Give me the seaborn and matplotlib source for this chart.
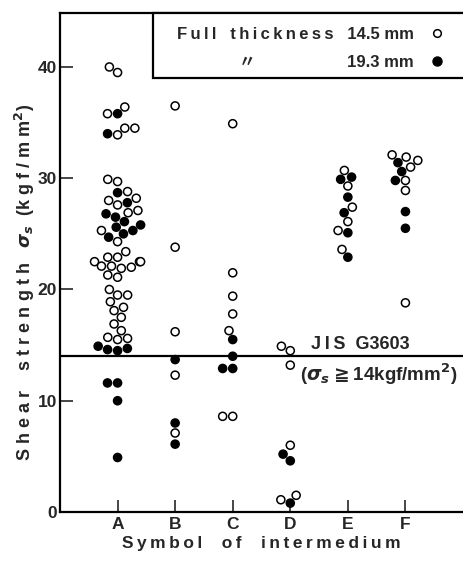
import pandas as pd
import matplotlib
matplotlib.use("Agg")
import matplotlib.pyplot as plt
from matplotlib.lines import Line2D
from matplotlib.patches import Rectangle
import seaborn as sns

# shear strength (kgf/mm2), per intermedium symbol
symbols = ["A", "B", "C", "D", "E", "F"]

a_145 = [40.0, 39.5, 36.4, 35.8, 34.5, 34.5, 33.9, 29.9, 29.7, 28.8, 28.2, 28.0,
         27.6, 27.1, 26.9, 25.3, 24.3, 23.4, 22.9, 22.9, 22.5, 22.5, 22.5, 22.1,
         22.1, 22.0, 21.9, 21.3, 21.1, 20.0, 19.5, 19.5, 18.9, 18.4, 18.1, 17.5,
         16.9, 16.3, 15.7, 15.6, 15.5]
a_193 = [35.8, 34.0, 28.7, 27.8, 26.8, 26.5, 26.1, 25.8, 25.6, 25.3, 25.0, 24.7,
         14.9, 14.7, 14.6, 14.5, 11.6, 11.6, 10.0, 4.9]
b_145 = [36.5, 23.8, 16.2, 12.3, 7.1]
b_193 = [13.7, 8.0, 6.1]
c_145 = [34.9, 21.5, 19.4, 17.8, 16.3, 8.6, 8.6]
c_193 = [15.5, 14.0, 12.9, 12.9]
d_145 = [14.9, 14.5, 13.2, 6.0, 1.5, 1.1]
d_193 = [5.2, 4.6, 0.8]
e_145 = [30.7, 29.3, 27.4, 26.1, 25.3, 23.6]
e_193 = [30.1, 29.9, 28.3, 26.9, 25.1, 22.9]
f_145 = [32.1, 31.9, 31.6, 31.0, 29.8, 28.9, 18.8]
f_193 = [31.4, 30.6, 29.8, 27.0, 25.5]

jis_limit = 14

groups = {
    "A": (a_145, a_193), "B": (b_145, b_193), "C": (c_145, c_193),
    "D": (d_145, d_193), "E": (e_145, e_193), "F": (f_145, f_193),
}
rows = []
for sym, (thin, thick) in groups.items():
    rows += [(sym, "14.5", v) for v in thin]
    rows += [(sym, "19.3", v) for v in thick]
df = pd.DataFrame(rows, columns=["symbol", "thickness", "strength"])


def spaced(text, gap="   ", track="\u2009"):
    # wide letter spacing like the original typesetting
    return gap.join(track.join(w) for w in text.split(" "))


sns.set_style("ticks")
plt.rcParams["font.family"] = ["Liberation Sans", "DejaVu Sans", "Noto Sans CJK JP"]
plt.rcParams["font.weight"] = "bold"

fig = plt.figure(figsize=(4.63, 5.65), dpi=100)
ax = fig.add_axes([60 / 463, 53 / 565, 403 / 463, 499 / 565])

sns.swarmplot(data=df, x="symbol", y="strength", hue="thickness", order=symbols,
              hue_order=["19.3", "14.5"], palette={"14.5": "white", "19.3": "black"},
              size=5.8, edgecolor="black", linewidth=1.1, legend=False, ax=ax)
for coll in ax.collections:
    coll.set_clip_on(False)

ax.axhline(jis_limit, color="black", lw=1.6, zorder=0)
ax.text(4.22, jis_limit + 0.25, spaced("JIS") + "  G3603", ha="center", va="bottom",
        fontsize=13, fontweight="bold")
ax.text(4.53, jis_limit - 0.45, "($\\sigma_s\\geqq$14kgf/mm$^2$)", ha="center", va="top",
        fontsize=13.5, fontweight="bold")

ax.set_xlim(-1.0, 6.0)
ax.set_ylim(0, 44.85)
ax.set_yticks([0, 10, 20, 30, 40])
ax.tick_params(direction="in", length=9, width=1.2, labelsize=12.5)
ax.tick_params(axis="y", pad=2)
for lab in ax.get_xticklabels() + ax.get_yticklabels():
    lab.set_fontweight("bold")
ax.spines["right"].set_visible(False)
for s in ["left", "bottom", "top"]:
    ax.spines[s].set_linewidth(1.6)
    ax.spines[s].set_color("black")

ax.set_xlabel(spaced("Symbol of intermedium", "    "), fontsize=12.5, fontweight="bold",
              labelpad=3)
wide = "\u2009\u200a"
ax.set_ylabel(spaced("Shear strength", "    ", wide) + "   $\\sigma_s$  ("
              + spaced("kgf/mm", "", wide) + "$^2$)",
              fontsize=13, fontweight="bold")
ax.yaxis.set_label_coords(-0.058, (512 - 282) / 499)

# legend box: open on the right, top edge shared with the frame
ax.add_patch(Rectangle((93 / 403, (512 - 78) / 499), 0.9, 1 - (512 - 78) / 499,
                       transform=ax.transAxes, facecolor="white", edgecolor="black",
                       lw=1.6, clip_on=False, zorder=4))
handles = [
    Line2D([], [], marker="o", ls="", mfc="white", mec="black", ms=5.5, mew=1.1),
    Line2D([], [], marker="o", ls="", mfc="black", mec="black", ms=6.5),
]
labels = [spaced("Full thickness") + "   14.5 mm",
          "〃" + "\u2003" * 5 + "\u2002" + "19.3 mm"]
leg = ax.legend(handles, labels,
                loc="upper left", bbox_to_anchor=(117 / 403, (512 - 27) / 499),
                borderaxespad=0, borderpad=0, markerfirst=False, frameon=False,
                handlelength=1.0, handletextpad=0.9, labelspacing=0.8,
                prop={"size": 12, "weight": "bold"})
leg.set_zorder(5)

fig.savefig("out.png", dpi=100)
